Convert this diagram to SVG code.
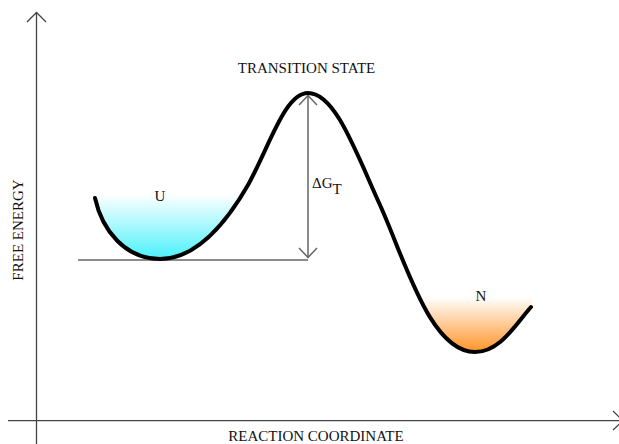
<svg xmlns="http://www.w3.org/2000/svg" width="619" height="444" viewBox="0 0 619 444">
<style>
.ax{stroke:#444;stroke-width:1.3;fill:none}
.gl{stroke:#666;stroke-width:1.5;fill:none}
.t{font-family:"Liberation Serif",serif;font-size:15px;fill:#111}
</style>
<defs>
<linearGradient id="gc" x1="0" y1="0" x2="0" y2="1">
<stop offset="0" stop-color="#ffffff"/>
<stop offset="1" stop-color="#3df0fa"/>
</linearGradient>
<linearGradient id="go" x1="0" y1="0" x2="0" y2="1">
<stop offset="0" stop-color="#ffffff"/>
<stop offset="1" stop-color="#ff8a14"/>
</linearGradient>
<clipPath id="cu"><path d="M95,198 C102,230 125,259 160,259 C195,259 225,225 248,185 L248,150 L90,150 Z"/></clipPath>
<clipPath id="cn"><path d="M380,205 C405,260 430,352 475,352 C500,352 515,325 531,307 L540,250 L380,250 Z"/></clipPath>
</defs>
<g id="fills">
<rect x="90" y="194" width="160" height="70" fill="url(#gc)" clip-path="url(#cu)"/>
<rect x="400" y="297" width="135" height="60" fill="url(#go)" clip-path="url(#cn)"/>
</g>
<g id="axes">
<path class="ax" d="M36.5,12 L36.5,444"/>
<path class="ax" d="M27,22 L36.5,12.5 L46,22"/>
<path class="ax" d="M8,420.7 L619,420.7"/>
<path class="ax" d="M613,411 L623,420.7 L613,430"/>
</g>
<g id="connectors">
<path class="gl" d="M78,260 L308,260"/>
<path class="gl" d="M308,95 L308,258"/>
<path class="gl" d="M299,105 L308,95.5 L317,105"/>
<path class="gl" d="M299,248 L308,257.5 L317,248"/>
</g>
<g id="curve">
<path d="M95,198 C102,230 125,259 160,259 C195,259 225,225 248,185 C270,145 285,93 308,93 C335,93 355,150 380,205 C405,260 430,352 475,352 C500,352 515,325 531,307" fill="none" stroke="#000" stroke-width="4" stroke-linecap="round"/>
</g>
<g id="labels">
<text class="t" x="306.5" y="73" text-anchor="middle">TRANSITION STATE</text>
<text class="t" x="312" y="188">ΔG<tspan dy="6">T</tspan></text>
<text class="t" x="160" y="201" text-anchor="middle" font-size="14">U</text>
<text class="t" x="481" y="301" text-anchor="middle" font-size="14">N</text>
<text class="t" x="316" y="441" text-anchor="middle">REACTION COORDINATE</text>
<text class="t" transform="translate(23,230) rotate(-90)" text-anchor="middle">FREE ENERGY</text>
</g>
</svg>
